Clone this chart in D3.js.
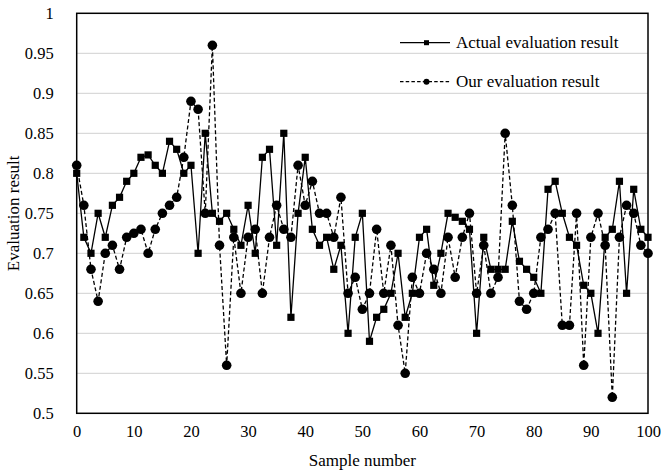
<!DOCTYPE html>
<html lang="en">
<head>
<meta charset="utf-8">
<script src="https://d3js.org/d3.v7.min.js"></script>
<style>
  body { margin: 0; background: #fff; }
  svg text { font-family: "Liberation Serif", Tinos, "DejaVu Serif", "Noto Serif", "Times New Roman", serif !important; fill: #000; }
</style>
</head>
<body>
<script>
// values (81 samples spread over 0..100)
var actual = [0.80, 0.72, 0.70, 0.75, 0.72, 0.76, 0.77, 0.79, 0.80, 0.82,
              0.823, 0.81, 0.80, 0.84, 0.83, 0.80, 0.81, 0.70, 0.85, 0.75,
              0.74, 0.75, 0.73, 0.71, 0.76, 0.70, 0.82, 0.83, 0.71, 0.85,
              0.62, 0.75, 0.82, 0.73, 0.71, 0.72, 0.68, 0.71, 0.60, 0.72,
              0.75, 0.59, 0.62, 0.63, 0.65, 0.70, 0.62, 0.65, 0.72, 0.73,
              0.66, 0.70, 0.75, 0.745, 0.74, 0.73, 0.60, 0.72, 0.68, 0.68,
              0.68, 0.74, 0.69, 0.68, 0.67, 0.65, 0.78, 0.79, 0.75, 0.72,
              0.71, 0.66, 0.65, 0.60, 0.72, 0.73, 0.79, 0.65, 0.78, 0.73, 0.72];
var ours = [0.81, 0.76, 0.68, 0.64, 0.70, 0.71, 0.68, 0.72, 0.725, 0.73,
            0.70, 0.73, 0.75, 0.76, 0.77, 0.82, 0.89, 0.88, 0.75, 0.96,
            0.71, 0.56, 0.72, 0.65, 0.72, 0.73, 0.65, 0.72, 0.76, 0.73,
            0.72, 0.81, 0.76, 0.79, 0.75, 0.75, 0.72, 0.77, 0.65, 0.67,
            0.63, 0.65, 0.73, 0.65, 0.71, 0.61, 0.55, 0.67, 0.65, 0.70,
            0.68, 0.65, 0.72, 0.67, 0.72, 0.75, 0.65, 0.71, 0.65, 0.67,
            0.85, 0.76, 0.64, 0.63, 0.65, 0.72, 0.73, 0.75, 0.61, 0.61,
            0.75, 0.56, 0.72, 0.75, 0.71, 0.52, 0.72, 0.76, 0.75, 0.71, 0.70];
var xTicks = [0, 10, 20, 30, 40, 50, 60, 70, 80, 90, 100];
var yTicks = [0.5, 0.55, 0.6, 0.65, 0.7, 0.75, 0.8, 0.85, 0.9, 0.95, 1];
var seriesNames = ["Actual evaluation result", "Our evaluation result"];

var W = 663, H = 473;
var margin = {top: 13.3, right: 15, bottom: 59.7, left: 76.7};
var w = W - margin.left - margin.right;
var h = H - margin.top - margin.bottom;
var serif = "'Liberation Serif', Tinos, 'DejaVu Serif', 'Noto Serif', serif";

var svg = d3.select("body").append("svg")
    .attr("width", W)
    .attr("height", H)
    .attr("font-family", serif);
var g = svg.append("g")
    .attr("transform", "translate(" + margin.left + "," + margin.top + ")");

var x = d3.scaleLinear().domain([0, 100]).range([0, w]);
// samples are evenly spaced over the whole axis
var xi = d3.scalePoint().domain(d3.range(actual.length)).range([0, w]);
var y = d3.scaleLinear().domain([0.5, 1]).range([h, 0]);

// horizontal grid
g.append("g")
    .selectAll("line")
    .data(yTicks.slice(1, -1))
    .enter().append("line")
    .attr("x1", 0).attr("x2", w)
    .attr("y1", function (d) { return y(d); })
    .attr("y2", function (d) { return y(d); })
    .attr("stroke", "#d9d9d9")
    .attr("stroke-width", 1.3);

// axes (labels only, no tick marks)
var xAxis = g.append("g")
    .attr("transform", "translate(0," + h + ")")
    .call(d3.axisBottom(x).tickValues(xTicks).tickSize(0).tickPadding(12).tickFormat(d3.format("d")));
var yAxis = g.append("g")
    .call(d3.axisLeft(y).tickValues(yTicks).tickSize(0).tickPadding(23).tickFormat(function (d) { return String(+d.toFixed(2)); }));
[xAxis, yAxis].forEach(function (a) {
    a.attr("font-family", serif).attr("font-size", 16.5);
    a.select(".domain").remove();
});

// frame
g.append("rect")
    .attr("width", w).attr("height", h)
    .attr("fill", "none")
    .attr("stroke", "#000")
    .attr("stroke-width", 1.5);

var line = function (vals) {
    return d3.line()
        .x(function (d, i) { return xi(i); })
        .y(function (d) { return y(d); })(vals);
};

// our result (dashed, circles)
g.append("path")
    .attr("d", line(ours))
    .attr("fill", "none")
    .attr("stroke", "#000")
    .attr("stroke-width", 1.3)
    .attr("stroke-dasharray", "4,2.5");
g.append("g").selectAll("circle")
    .data(ours)
    .enter().append("circle")
    .attr("cx", function (d, i) { return xi(i); })
    .attr("cy", function (d) { return y(d); })
    .attr("r", 4.8)
    .attr("fill", "#000");

// actual result (solid, squares)
g.append("path")
    .attr("d", line(actual))
    .attr("fill", "none")
    .attr("stroke", "#000")
    .attr("stroke-width", 1.3);
var sq = 7.2;
g.append("g").selectAll("rect")
    .data(actual)
    .enter().append("rect")
    .attr("x", function (d, i) { return xi(i) - sq / 2; })
    .attr("y", function (d) { return y(d) - sq / 2; })
    .attr("width", sq).attr("height", sq)
    .attr("fill", "#000");

// legend
var legend = svg.append("g").attr("transform", "translate(400,42.7)");
seriesNames.forEach(function (name, k) {
    var row = legend.append("g").attr("transform", "translate(0," + (k * 39) + ")");
    row.append("line")
        .attr("x1", 0).attr("x2", 50)
        .attr("stroke", "#000")
        .attr("stroke-width", 1.3)
        .attr("stroke-dasharray", k === 0 ? null : "3.5,2.2");
    if (k === 0) {
        row.append("rect").attr("x", 24).attr("y", -2.5).attr("width", 5).attr("height", 5).attr("fill", "#000");
    } else {
        row.append("circle").attr("cx", 26.5).attr("r", 3).attr("fill", "#000");
    }
    row.append("text")
        .attr("x", 56).attr("y", 5.5)
        .attr("font-size", 17)
        .text(name);
});

// axis titles
svg.append("text")
    .attr("x", margin.left + w / 2)
    .attr("y", 466)
    .attr("text-anchor", "middle")
    .attr("font-size", 17)
    .text("Sample number");
svg.append("text")
    .attr("transform", "translate(19," + (margin.top + h / 2) + ") rotate(-90)")
    .attr("text-anchor", "middle")
    .attr("font-size", 17)
    .text("Evaluation result");
</script>
</body>
</html>
